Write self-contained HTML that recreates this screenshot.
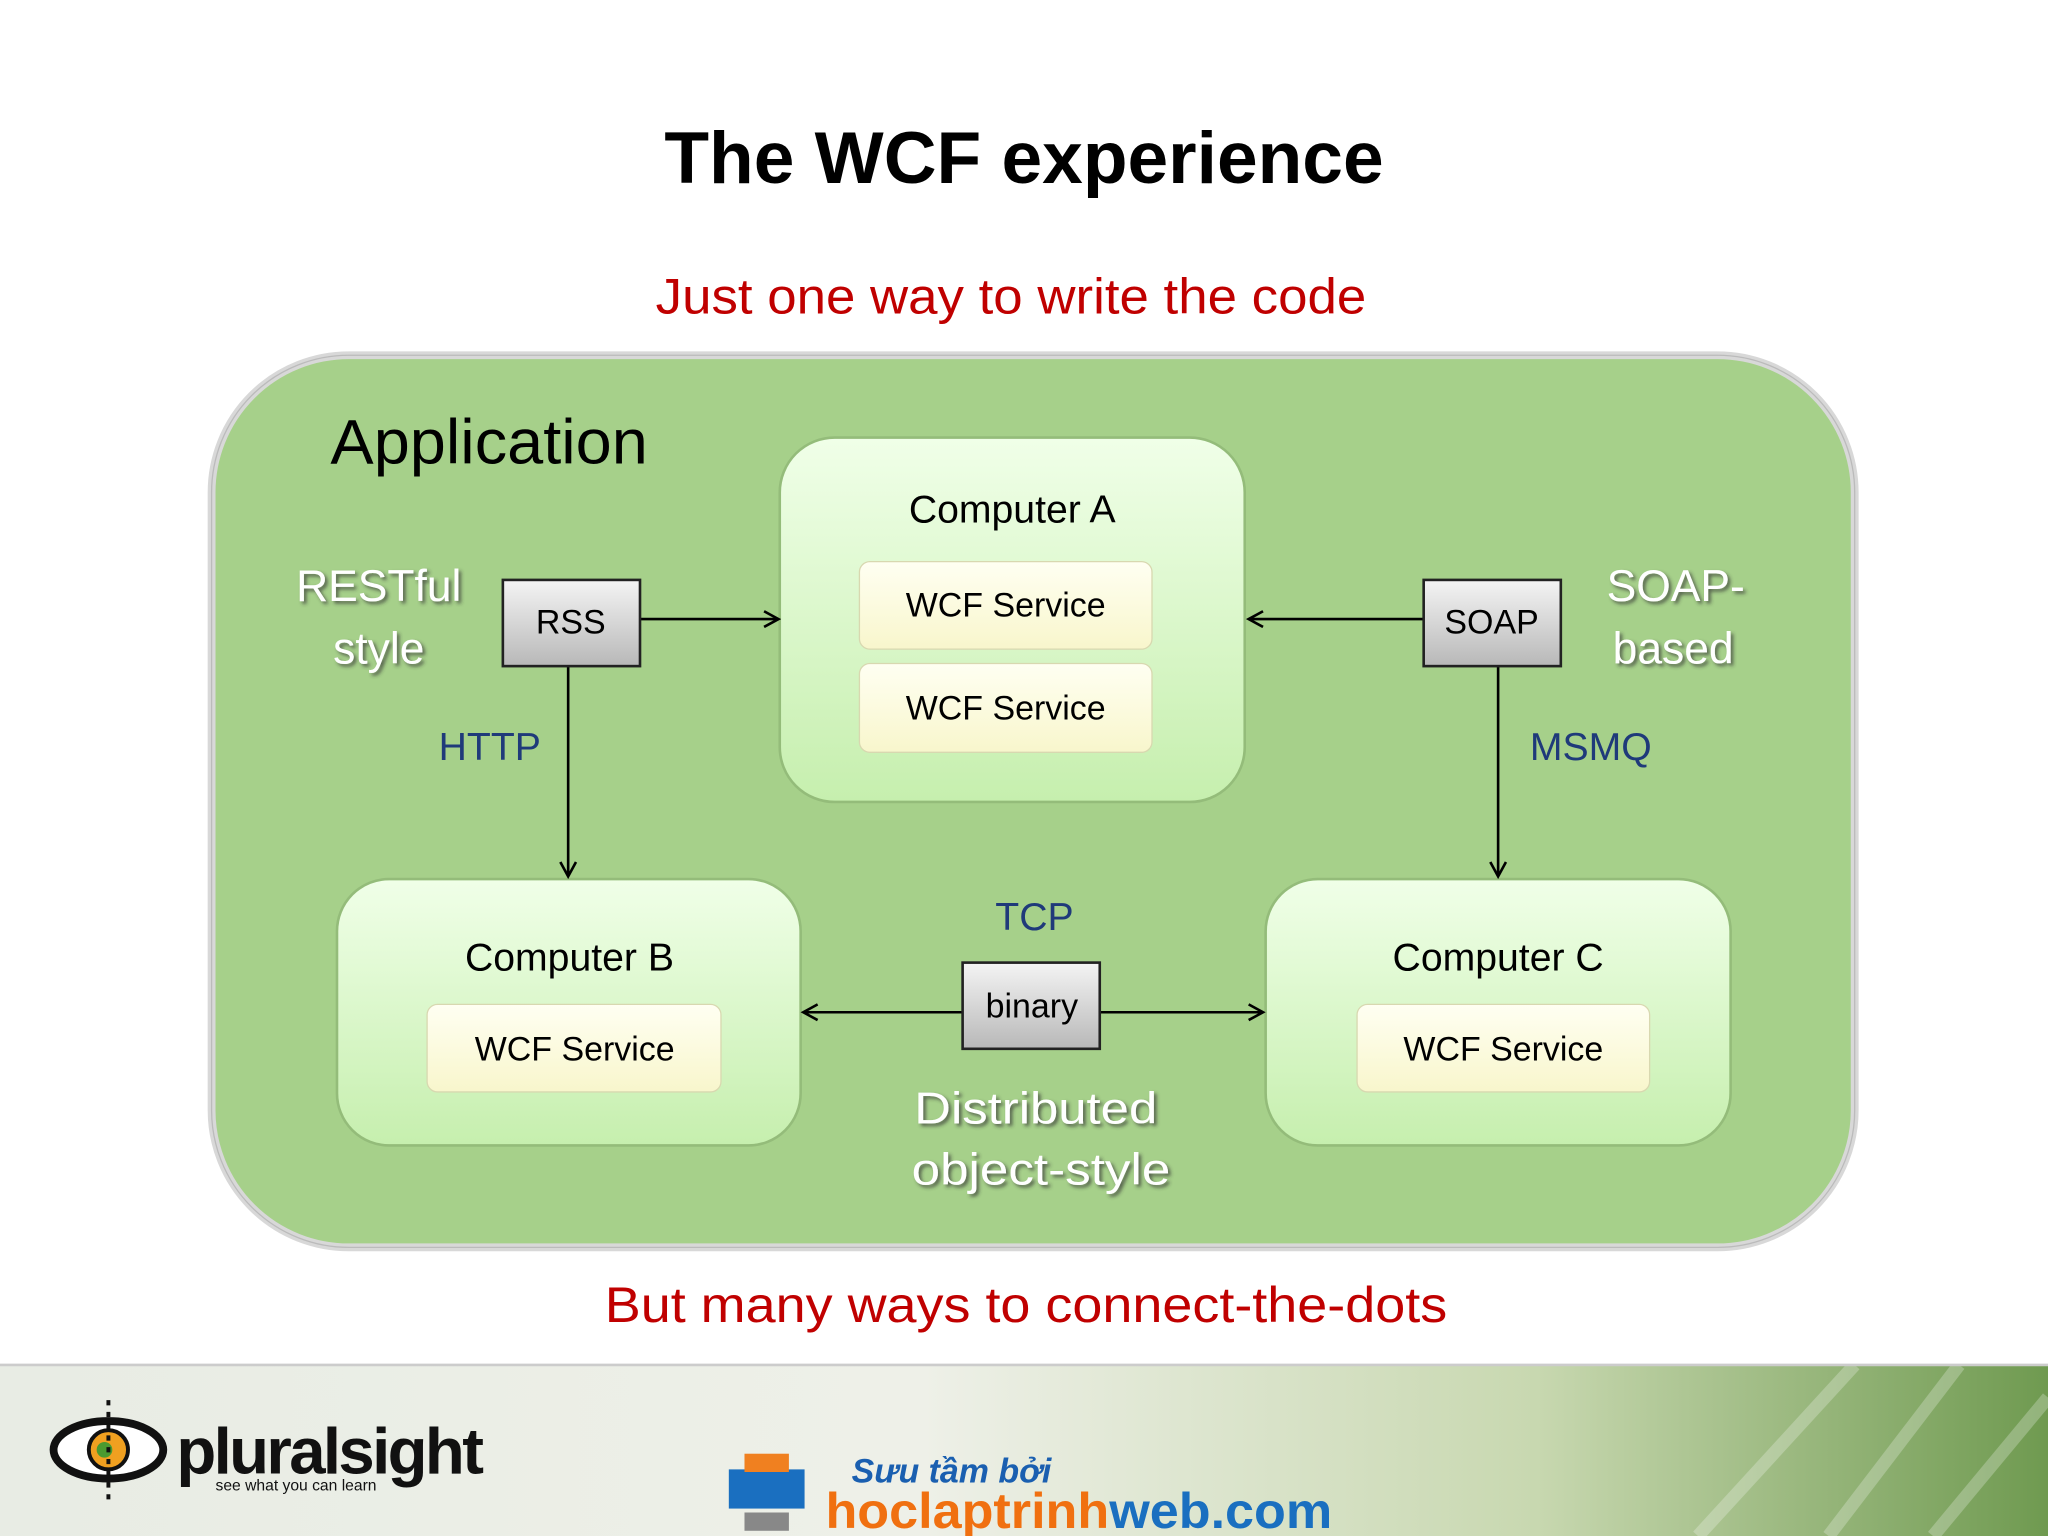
<!DOCTYPE html>
<html><head><meta charset="utf-8"><style>
html,body{margin:0;padding:0;background:#fff;}
svg{display:block;}
text{font-family:"Liberation Sans",sans-serif;}
</style></head><body>
<svg width="2048" height="1536" viewBox="0 0 1568 1176" xmlns="http://www.w3.org/2000/svg">
<defs>
<linearGradient id="comp" x1="0" y1="0" x2="0" y2="1"><stop offset="0" stop-color="#f0ffe8"/><stop offset="1" stop-color="#c6efae"/></linearGradient>
<linearGradient id="wcf" x1="0" y1="0" x2="0" y2="1"><stop offset="0" stop-color="#fffff2"/><stop offset="1" stop-color="#f8f6cc"/></linearGradient>
<linearGradient id="gray" x1="0" y1="0" x2="0" y2="1"><stop offset="0" stop-color="#f4f4f4"/><stop offset="1" stop-color="#b8b8b8"/></linearGradient>
<linearGradient id="foot" x1="0" y1="0" x2="1" y2="0"><stop offset="0" stop-color="#e8ece4"/><stop offset="0.45" stop-color="#eef0e8"/><stop offset="0.75" stop-color="#c8d8b0"/><stop offset="1" stop-color="#6f9a50"/></linearGradient>
<marker id="ah" markerWidth="14" markerHeight="14" refX="12" refY="7" orient="auto" markerUnits="userSpaceOnUse"><path d="M1,1 L12,7 L1,13" fill="none" stroke="#000" stroke-width="2"/></marker>
<filter id="sh"><feDropShadow dx="2" dy="2" stdDeviation="1.5" flood-color="#333" flood-opacity="0.7"/></filter>
</defs>
<text x="784" y="140" text-anchor="middle" font-size="56" font-weight="bold" fill="#000">The WCF experience</text>
<text x="502" y="240" font-size="38" fill="#c00000" textLength="544" lengthAdjust="spacingAndGlyphs">Just one way to write the code</text>
<rect x="162" y="272" width="1258" height="683" rx="105" fill="#a6d08a" stroke="#d8d8d8" stroke-width="6"/>
<rect x="162" y="272" width="1258" height="683" rx="105" fill="none" stroke="#bbb" stroke-width="1"/>
<text x="253" y="355" font-size="48" fill="#000" textLength="243" lengthAdjust="spacingAndGlyphs">Application</text>
<rect x="597" y="335" width="356" height="279" rx="42" fill="url(#comp)" stroke="#94bc7a" stroke-width="2"/>
<text x="775" y="400" text-anchor="middle" font-size="30">Computer A</text>
<rect x="658" y="430" width="224" height="67" rx="8" fill="url(#wcf)" stroke="#d8d8b0"/>
<text x="770" y="472" text-anchor="middle" font-size="26">WCF Service</text>
<rect x="658" y="508" width="224" height="68" rx="8" fill="url(#wcf)" stroke="#d8d8b0"/>
<text x="770" y="551" text-anchor="middle" font-size="26">WCF Service</text>
<rect x="258" y="673" width="355" height="204" rx="40" fill="url(#comp)" stroke="#94bc7a" stroke-width="2"/>
<text x="436" y="743" text-anchor="middle" font-size="30">Computer B</text>
<rect x="327" y="769" width="225" height="67" rx="8" fill="url(#wcf)" stroke="#d8d8b0"/>
<text x="440" y="812" text-anchor="middle" font-size="26">WCF Service</text>
<rect x="969" y="673" width="356" height="204" rx="40" fill="url(#comp)" stroke="#94bc7a" stroke-width="2"/>
<text x="1147" y="743" text-anchor="middle" font-size="30">Computer C</text>
<rect x="1039" y="769" width="224" height="67" rx="8" fill="url(#wcf)" stroke="#d8d8b0"/>
<text x="1151" y="812" text-anchor="middle" font-size="26">WCF Service</text>
<line x1="490" y1="474" x2="596" y2="474" stroke="#000" stroke-width="2" marker-end="url(#ah)"/>
<line x1="1090" y1="474" x2="956" y2="474" stroke="#000" stroke-width="2" marker-end="url(#ah)"/>
<line x1="435" y1="510" x2="435" y2="671" stroke="#000" stroke-width="2" marker-end="url(#ah)"/>
<line x1="1147" y1="510" x2="1147" y2="671" stroke="#000" stroke-width="2" marker-end="url(#ah)"/>
<line x1="737" y1="775" x2="615" y2="775" stroke="#000" stroke-width="2" marker-end="url(#ah)"/>
<line x1="842" y1="775" x2="967" y2="775" stroke="#000" stroke-width="2" marker-end="url(#ah)"/>
<rect x="385" y="444" width="105" height="66" fill="url(#gray)" stroke="#222" stroke-width="2"/>
<text x="437" y="485" text-anchor="middle" font-size="26">RSS</text>
<rect x="1090" y="444" width="105" height="66" fill="url(#gray)" stroke="#222" stroke-width="2"/>
<text x="1142" y="485" text-anchor="middle" font-size="26">SOAP</text>
<rect x="737" y="737" width="105" height="66" fill="url(#gray)" stroke="#222" stroke-width="2"/>
<text x="790" y="779" text-anchor="middle" font-size="26">binary</text>
<g fill="#fff" font-size="34" text-anchor="middle" filter="url(#sh)">
<text x="290" y="460">RESTful</text><text x="290" y="508">style</text>
<text x="1283" y="460">SOAP-</text><text x="1281" y="508">based</text>
<text x="700" y="860" text-anchor="start" textLength="186" lengthAdjust="spacingAndGlyphs">Distributed</text><text x="698" y="907" text-anchor="start" textLength="198" lengthAdjust="spacingAndGlyphs">object-style</text>
</g>
<g fill="#1f3a7a" font-size="30" text-anchor="middle">
<text x="375" y="582">HTTP</text><text x="1218" y="582">MSMQ</text><text x="792" y="712">TCP</text>
</g>
<text x="463" y="1012" font-size="38" fill="#c00000" textLength="645" lengthAdjust="spacingAndGlyphs">But many ways to connect-the-dots</text>
<rect x="0" y="1045" width="1568" height="131" fill="url(#foot)"/>
<g stroke="#fff" stroke-opacity="0.25" stroke-width="10">
<line x1="1300" y1="1176" x2="1420" y2="1045"/><line x1="1400" y1="1176" x2="1500" y2="1045"/><line x1="1480" y1="1176" x2="1568" y2="1070"/>
</g>
<line x1="0" y1="1045" x2="1568" y2="1045" stroke="#ccc" stroke-width="2"/>
<ellipse cx="83" cy="1110" rx="42" ry="22" fill="#fff" stroke="#111" stroke-width="6"/>
<circle cx="83" cy="1110" r="15" fill="#f0a020" stroke="#111" stroke-width="3"/>
<circle cx="80" cy="1110" r="6" fill="#4a9a30"/>
<line x1="83" y1="1072" x2="83" y2="1150" stroke="#111" stroke-width="3" stroke-dasharray="4,5"/>
<text x="135" y="1128" font-size="50" font-weight="bold" fill="#111" letter-spacing="-2">pluralsight</text>
<text x="165" y="1141" font-size="12" fill="#111">see what you can learn</text>
<rect x="558" y="1125" width="58" height="30" fill="#1a6fc0"/>
<rect x="570" y="1113" width="34" height="14" fill="#f08020"/>
<rect x="570" y="1158" width="34" height="14" fill="#888"/>
<text x="652" y="1135" font-size="26" font-weight="bold" font-style="italic" fill="#1a5fb0">Sưu tầm bởi</text>
<text x="632" y="1170" font-size="38" font-weight="bold" fill="#f07010" textLength="388" lengthAdjust="spacingAndGlyphs">hoclaptrinh<tspan fill="#1a6fc0">web.com</tspan></text>
</svg>
</body></html>
